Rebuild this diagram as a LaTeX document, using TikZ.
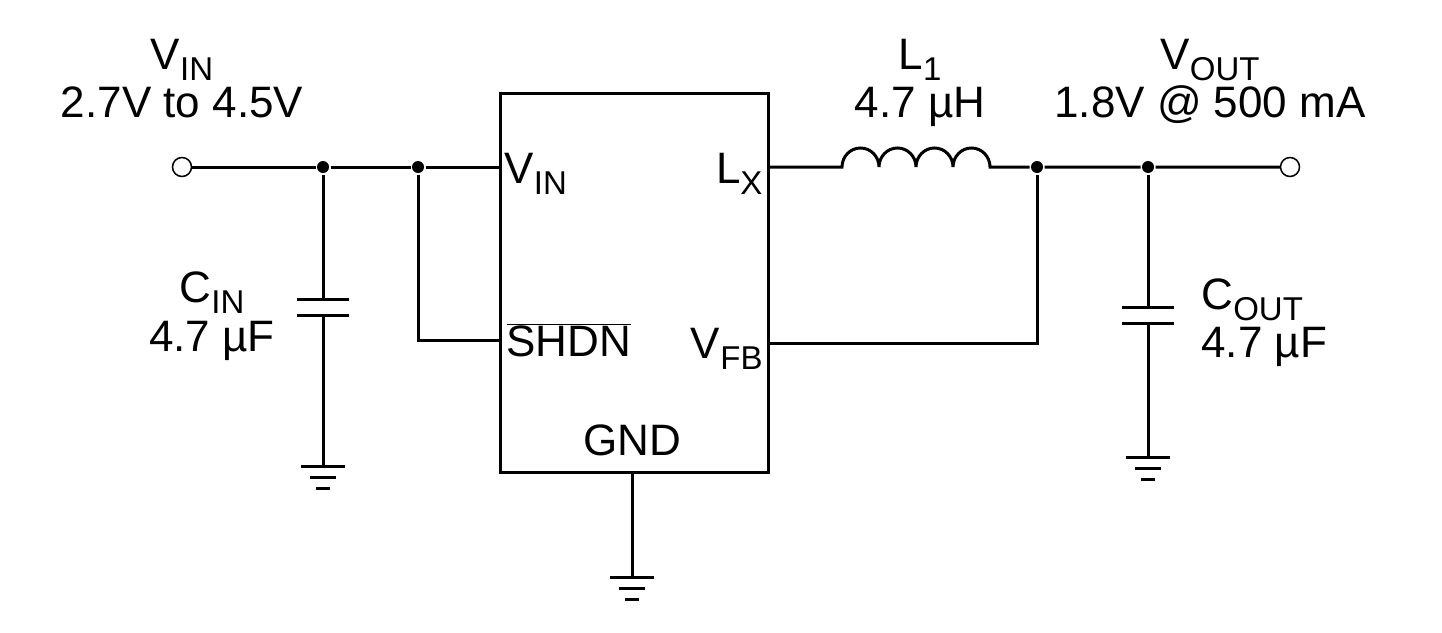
\documentclass[tikz,border=0pt]{standalone}
\usepackage{fontspec}
\setmainfont{Liberation Sans}
\newcommand{\sub}[1]{\raisebox{-0.25em}{\fontsize{33}{36}\selectfont #1}}
\begin{document}
\begin{tikzpicture}[x=1pt,y=-1pt,line width=3pt,
  lbl/.style={inner sep=0pt,anchor=base,font=\fontsize{44}{50}\selectfont},
  dot/.style={circle,fill,inner sep=0pt,minimum size=12pt},
  term/.style={circle,draw,line width=1.5pt,fill=white,inner sep=0pt,minimum size=19pt}]
\useasboundingbox (0,0) rectangle (1442,632);
\newcommand{\gnd}[2]{\draw (#1-22,#2) -- (#1+22,#2); \draw (#1-13,#2+11) -- (#1+13,#2+11); \draw (#1-7,#2+22) -- (#1+7,#2+22);}
% box
\draw (500,93) rectangle (768,472);
\node[term] (vin) at (182,167) {};
\node[term] (vout) at (1290,167) {};
\node[dot] (d1) at (323,167) {};
\node[dot] (d2) at (418,167) {};
\node[dot] (d3) at (1037,167) {};
\node[dot] (d4) at (1148,167) {};
\coordinate (boxin) at (500,167);
\coordinate (boxshdn) at (500,340);
\coordinate (lxo) at (768,167);
\coordinate (fbo) at (768,343);
\draw (vin) -- (d1) -- (d2) -- (boxin);
\draw (d2) |- (boxshdn);
% CIN
\draw (d1) -- (323,299);
\draw (297,299) -- (349,299); \draw (297,315) -- (349,315);
\draw (323,315) -- (323,466);
\gnd{323}{466}
% inductor
\draw (lxo) -- (842,167)
  arc[start angle=180,end angle=0,x radius=18.5,y radius=-19]
  arc[start angle=180,end angle=0,x radius=18.5,y radius=-19]
  arc[start angle=180,end angle=0,x radius=18.5,y radius=-19]
  arc[start angle=180,end angle=0,x radius=18.5,y radius=-19]
  -- (d3) -- (d4) -- (vout);
\draw (fbo) -| (d3);
% COUT
\draw (d4) -- (1148,307);
\draw (1122,307) -- (1174,307); \draw (1122,323) -- (1174,323);
\draw (1148,323) -- (1148,457);
\gnd{1148}{457}
% GND
\draw (632,472) -- (632,577);
\gnd{632}{577}
% labels
\node[lbl] (t1) at (182,69) {V\sub{IN}};
\node[lbl] (t2) at (182,117) {2.7V to 4.5V};
\node[lbl] (t3) at (920,69) {L\sub{1}};
\node[lbl] (t4) at (920,117) {4.7 µH};
\node[lbl] (t5) at (1210,69) {V\sub{OUT}};
\node[lbl] (t6) at (1210,117) {1.8V @ 500 mA};
\node[lbl] (t7) at (212,302) {C\sub{IN}};
\node[lbl] (t8) at (212,351) {4.7 µF};
\node[lbl,anchor=base west] (t9) at (1200,309) {C\sub{OUT}};
\node[lbl,anchor=base west] (t10) at (1200,357) {4.7 µF};
\node[lbl,anchor=base west] (p1) at (503,183) {V\sub{IN}};
\node[lbl,anchor=base east] (p2) at (764,183) {L\sub{X}};
\node[lbl,anchor=base west] (p3) at (505,356) {$\overline{\mbox{SHDN}}$};
\node[lbl,anchor=base east] (p4) at (764,358) {V\sub{FB}};
\node[lbl] (p5) at (632,455) {GND};
\end{tikzpicture}
\end{document}
